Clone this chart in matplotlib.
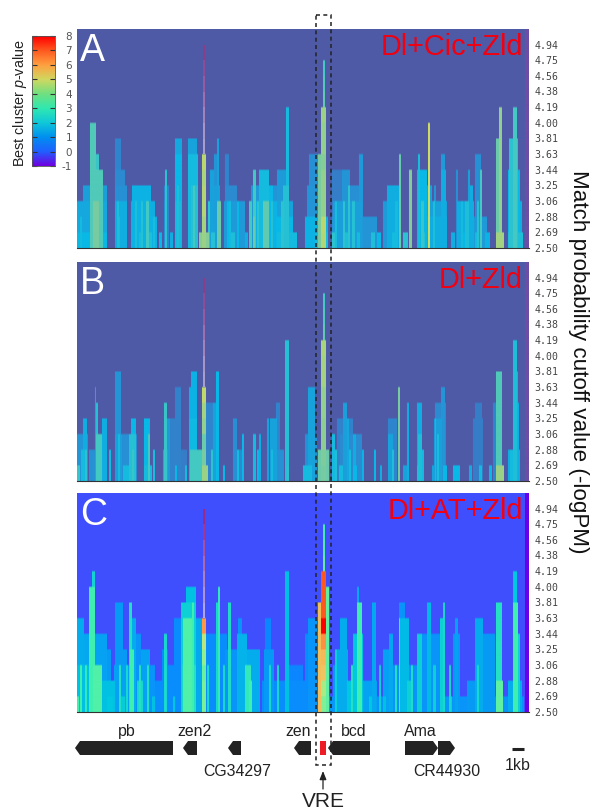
import numpy as np
import matplotlib
matplotlib.use("Agg")
import matplotlib.pyplot as plt
from matplotlib.colors import LinearSegmentedColormap
from matplotlib.patches import Polygon, Rectangle

plt.rcParams['font.family'] = ['Liberation Sans', 'DejaVu Sans']
plt.rcParams['mathtext.fontset'] = 'custom'
plt.rcParams['mathtext.it'] = 'Liberation Sans:italic'
plt.rcParams['mathtext.rm'] = 'Liberation Sans'

W, H = 591, 812
N_BINS = 452
N_ROWS = 14

cutoff_labels = ["2.50", "2.69", "2.88", "3.06", "3.25", "3.44", "3.63",
                 "3.81", "4.00", "4.19", "4.38", "4.56", "4.75", "4.94"]
cbar_ticks = [-1, 0, 1, 2, 3, 4, 5, 6, 7, 8]

# (start bin, end bin, rows reached, p-value)
a_spikes = [
    (0, 30, 3, 1.7), (6, 30, 4, 1.5), (13, 19, 8, 3.2), (13, 22, 6, 2.8), (19, 26, 5, 3.2),
    (16, 22, 3, 3.8), (0, 30, 1, 2.0), (3, 5, 2, 2.2), (38, 44, 7, 1.0), (38, 48, 5, 1.1),
    (38, 50, 4, 1.2), (38, 50, 3, 1.8), (41, 43, 2, 2.3), (55, 74, 4, 1.9), (54, 78, 3, 1.8),
    (54, 80, 2, 1.9), (69, 72, 3, 3.0), (62, 66, 1, 2.3), (88, 90, 5, 2.6), (87, 92, 4, 1.0),
    (87, 90, 3, 1.2), (98, 105, 7, 1.7), (98, 105, 6, 2.0), (98, 104, 3, 2.2), (111, 120, 7, 1.6),
    (111, 121, 6, 2.2), (114, 121, 4, 2.5), (112, 118, 3, 2.0), (122, 132, 1, 4.0),
    (133, 137, 5, 1.6), (137, 142, 6, 1.3), (140, 142, 7, 1.6), (137, 143, 4, 1.5), (140, 144, 3, 3.6),
    (148, 152, 6, 1.0), (148, 160, 4, 1.1), (147, 168, 3, 1.4), (150, 153, 3, 2.0), (174, 182, 4, 1.4),
    (176, 179, 5, 3.0), (182, 192, 5, 2.2), (182, 196, 4, 2.0), (178, 200, 3, 1.9), (186, 192, 3, 3.4),
    (176, 178, 2, 3.6), (209, 212, 9, 2.2), (200, 212, 5, 1.4), (196, 212, 4, 1.3), (206, 212, 4, 2.5),
    (200, 216, 3, 1.6), (199, 216, 2, 2.0), (200, 220, 1, 2.2), (230, 240, 4, 1.3), (232, 244, 6, 1.2),
    (228, 251, 2, 1.9), (238, 251, 1, 2.2), (241, 244, 6, 3.8), (255, 265, 5, 0.8), (265, 273, 5, 1.3),
    (273, 285, 4, 1.2), (282, 286, 6, 1.4), (256, 285, 3, 1.5), (255, 300, 2, 1.3), (271, 273, 4, 2.6),
    (310, 322, 4, 1.8), (306, 323, 3, 1.4), (322, 324, 6, 3.5), (332, 335, 5, 4.0), (340, 350, 5, 2.0),
    (341, 343, 6, 2.3), (350, 355, 4, 1.6), (351, 353, 8, 5.0), (357, 359, 4, 1.3), (364, 368, 6, 1.4),
    (364, 369, 5, 1.8), (340, 370, 3, 1.6), (340, 370, 2, 1.8), (379, 381, 5, 1.2), (391, 393, 5, 1.5),
    (393, 396, 4, 1.8), (398, 404, 6, 1.2), (403, 405, 5, 3.0), (380, 397, 3, 1.8), (380, 410, 2, 1.4),
    (419, 424, 7, 3.6), (422, 425, 9, 4.2), (419, 427, 1, 4.4), (432, 441, 7, 2.6), (436, 440, 9, 3.0),
    (431, 443, 5, 2.0), (431, 445, 3, 1.8), (431, 446, 1, 2.4), (255, 258, 1, 2.6), (268, 272, 1, 2.4),
    (280, 283, 1, 2.2), (294, 298, 1, 2.4), (300, 304, 1, 2.0), (315, 319, 1, 2.2), (326, 331, 1, 2.6),
    (344, 348, 1, 2.5), (374, 378, 1, 1.8), (386, 390, 1, 2.0), (398, 402, 1, 2.2), (408, 413, 1, 1.9),
    (72, 75, 1, 2.4), (82, 85, 1, 2.0), (93, 96, 1, 1.8), (134, 138, 1, 2.5), (154, 158, 1, 2.4), (168, 171, 1, 1.8),
    (40, 42, 3, 2.4), (58, 60, 3, 2.4), (64, 66, 3, 2.5), (76, 78, 2, 2.3), (100, 102, 4, 2.4),
    (116, 118, 4, 3.0), (131, 133, 3, 2.6), (152, 154, 3, 2.2), (160, 162, 3, 2.0), (172, 175, 3, 3.0),
    (180, 182, 3, 2.6), (194, 196, 3, 2.5), (204, 207, 3, 2.6), (258, 260, 3, 2.3), (266, 268, 3, 2.6),
    (275, 278, 3, 2.5), (318, 321, 3, 2.2), (344, 347, 3, 2.8), (356, 358, 3, 2.4), (384, 386, 3, 2.2),
    (388, 392, 3, 2.4), (400, 402, 3, 2.5), (436, 439, 3, 2.6),
]
b_spikes = [
    (0, 11, 3, 1.3), (6, 10, 4, 1.8), (4, 8, 2, 2.2), (0, 3, 1, 2.8), (12, 18, 2, 1.2),
    (18, 19, 6, 1.8), (19, 21, 5, 2.5), (19, 25, 3, 3.0), (25, 30, 4, 1.8), (21, 30, 2, 1.6),
    (38, 44, 7, 1.3), (38, 44, 6, 1.0), (38, 45, 3, 1.5), (38, 60, 3, 1.2), (54, 59, 4, 2.0),
    (52, 59, 3, 2.5), (53, 58, 2, 2.5), (67, 73, 4, 2.0), (71, 73, 3, 3.0), (67, 75, 1, 2.2),
    (46, 53, 1, 2.2), (87, 90, 5, 2.8), (87, 93, 4, 1.4), (86, 91, 2, 1.8), (98, 104, 6, 0.9),
    (93, 104, 4, 0.9), (93, 110, 2, 0.8), (98, 100, 1, 2.0), (112, 120, 6, 1.9), (114, 120, 7, 1.9),
    (112, 120, 4, 2.1), (113, 125, 2, 3.0), (129, 131, 1, 4.3), (129, 139, 5, 1.0),
    (139, 142, 7, 2.0), (136, 142, 5, 1.6), (156, 160, 4, 1.2), (156, 166, 2, 1.1), (165, 167, 3, 2.0),
    (176, 179, 3, 2.2), (182, 184, 3, 1.8), (190, 192, 4, 1.6), (193, 200, 4, 1.6), (199, 203, 5, 1.0),
    (208, 212, 9, 2.5), (208, 212, 8, 1.8), (200, 207, 2, 1.2), (231, 238, 6, 1.6), (228, 240, 3, 1.2),
    (226, 235, 1, 2.2), (241, 252, 2, 3.6), (255, 258, 3, 2.2), (266, 270, 5, 1.5), (260, 276, 4, 0.9),
    (270, 272, 4, 1.7), (263, 285, 3, 1.1), (276, 279, 3, 1.8), (285, 287, 2, 1.9), (297, 299, 2, 2.0),
    (311, 320, 4, 1.0), (311, 316, 3, 1.6), (321, 323, 6, 3.8), (330, 332, 5, 1.8), (340, 345, 5, 1.8),
    (341, 345, 3, 2.4), (364, 368, 6, 1.3), (358, 369, 5, 1.1), (357, 365, 4, 1.5), (358, 359, 4, 2.2),
    (398, 405, 5, 0.8), (396, 406, 4, 0.8), (419, 425, 7, 3.2), (416, 419, 5, 1.0), (419, 427, 1, 4.3),
    (436, 440, 9, 2.4), (436, 441, 7, 2.0), (438, 442, 5, 1.8), (431, 443, 2, 1.8), (376, 383, 1, 2.0),
    (355, 360, 1, 1.6), (262, 266, 1, 2.2), (276, 280, 1, 2.0), (303, 305, 1, 1.8), (326, 330, 1, 1.6),
    (340, 344, 1, 2.4), (366, 370, 1, 2.0), (392, 395, 1, 1.8), (402, 404, 1, 2.2), (412, 415, 1, 2.0),
    (8, 10, 2, 2.6), (32, 34, 2, 2.2), (41, 43, 3, 2.2), (55, 57, 2, 2.8), (76, 78, 2, 2.3),
    (108, 110, 1, 2.2), (120, 122, 2, 2.8), (134, 136, 2, 2.6), (146, 148, 1, 2.0), (160, 162, 2, 2.2),
    (180, 182, 2, 2.0), (194, 196, 2, 2.2), (210, 212, 1, 2.6), (258, 260, 2, 2.4), (272, 274, 2, 2.2),
    (315, 317, 2, 2.4), (345, 347, 2, 2.2), (360, 362, 3, 2.3), (403, 405, 1, 2.2), (433, 436, 2, 2.2),
]
c_spikes = [
    (0, 7, 6, 1.6), (7, 13, 5, 1.5), (15, 18, 9, 2.3), (12, 18, 8, 3.0), (12, 18, 6, 2.3),
    (0, 13, 3, 1.9), (0, 2, 1, 3.0), (18, 30, 5, 1.4), (18, 34, 4, 1.3), (16, 25, 3, 3.2),
    (13, 16, 2, 2.6), (25, 38, 2, 1.9), (38, 46, 7, 1.3), (38, 50, 4, 1.3), (52, 55, 7, 2.6),
    (53, 59, 6, 1.6), (59, 64, 5, 1.2), (64, 73, 4, 1.4), (73, 78, 3, 1.2), (37, 53, 3, 1.4),
    (53, 57, 4, 3.0), (60, 66, 2, 2.4), (78, 100, 2, 1.1), (85, 100, 3, 1.1), (87, 90, 5, 2.4),
    (85, 91, 4, 1.1), (97, 104, 6, 1.1), (104, 108, 7, 1.8), (109, 119, 8, 1.9), (104, 119, 7, 2.2),
    (106, 115, 6, 3.2), (110, 114, 5, 3.0), (115, 117, 7, 3.0), (119, 125, 6, 1.5), (112, 119, 3, 2.4),
    (129, 150, 5, 1.1), (141, 143, 8, 2.8), (139, 143, 7, 2.4),
    (151, 154, 7, 2.5), (161, 165, 6, 1.2), (160, 170, 5, 1.7), (148, 160, 4, 1.2), (170, 183, 4, 1.6),
    (168, 174, 3, 2.8), (188, 194, 6, 1.0), (187, 197, 4, 1.3), (185, 208, 2, 1.1), (192, 194, 3, 2.4),
    (208, 212, 9, 1.9), (208, 212, 4, 1.2), (212, 226, 3, 1.0), (210, 232, 2, 1.1), (231, 240, 6, 1.2),
    (228, 240, 5, 1.1), (241, 244, 7, 5.6), (249, 252, 8, 3.4), (256, 260, 3, 1.3), (260, 271, 4, 1.6),
    (263, 270, 6, 1.6), (276, 286, 5, 2.0), (280, 282, 8, 1.6), (280, 285, 7, 3.0), (286, 300, 2, 1.4),
    (295, 299, 7, 1.5), (312, 316, 5, 1.5), (306, 316, 4, 1.4), (322, 332, 6, 1.8), (322, 328, 7, 1.2),
    (322, 323, 6, 3.0), (316, 340, 3, 1.2), (340, 345, 5, 2.2), (350, 354, 7, 1.8), (345, 363, 5, 1.2),
    (363, 368, 6, 2.2), (366, 368, 7, 2.4), (378, 381, 6, 1.4), (376, 383, 5, 1.3), (398, 406, 6, 1.6),
    (403, 418, 5, 1.3), (390, 418, 2, 1.3), (419, 425, 7, 2.6), (419, 426, 2, 3.4), (436, 440, 9, 2.0),
    (436, 441, 7, 3.0), (438, 443, 5, 2.2), (431, 445, 2, 1.6), (252, 447, 1, 1.2), (270, 274, 2, 2.0),
    (292, 295, 1, 2.0), (306, 309, 1, 1.9), (330, 334, 2, 2.2), (356, 359, 3, 2.2), (372, 375, 1, 2.2),
    (30, 36, 1, 2.0), (44, 48, 1, 2.1), (75, 78, 1, 1.9), (96, 98, 1, 2.0),
    (3, 5, 3, 3.0), (8, 10, 3, 2.8), (20, 22, 3, 2.6), (42, 44, 3, 2.6), (49, 51, 3, 2.4),
    (62, 64, 3, 2.6), (70, 72, 3, 2.6), (88, 89, 3, 2.5), (105, 107, 3, 2.4), (117, 119, 3, 2.6),
    (130, 132, 3, 2.4), (146, 148, 3, 2.4), (172, 175, 2, 3.0), (200, 202, 3, 2.4), (258, 260, 4, 2.2),
    (274, 276, 3, 2.6), (302, 304, 3, 2.2), (318, 320, 3, 2.6), (334, 336, 3, 2.5), (372, 374, 3, 2.4),
    (400, 402, 3, 2.4),
]

# p-value per row from the bottom: spike below the thin line, then the VRE core and its tip
a_line_base = [4.3, 4.4, 4.6, 4.6, 4.5, 4.7]
b_line_base = [4.3, 3.8, 3.6, 4.2, 4.4, 4.8]
c_line_base = [3.7, 3.7, 3.5, 4.0, 4.5, 6.2]
a_vre = [4.6, 4.7, 4.2, 4.2, 4.2, 4.0, 4.2, 4.2, 4.3]
b_vre = [3.8, 3.9, 4.1, 4.1, 4.2, 4.2, 4.4, 4.4, 4.5]
c_vre = [3.8, 4.3, 5.5, 5.7, 6.3, 8.0, 7.0, 7.0, 7.0]
tip_vre = [3.4, 3.2, 3.0]

a_pink = ["#c4b4d8", "#c2a8d0", "#bb90c0", "#b678b0", "#aa5ca0", "#a04890", "#9a3880"]
b_pink = ["#c4b4d8", "#c2a8d0", "#bb90c0", "#b678b0", "#aa5ca0", "#a04890", "#9a3880"]
c_pink = ["#d0c0e8", "#d0a8d0", "#d090b0", "#d07090", "#c85080", "#c03070", "#b82060"]

gene_names = ["pb", "zen2", "CG34297", "zen", "bcd", "Ama", "CR44930"]
gene_left = [75, 183, 228, 294, 328, 405, 438]
gene_right = [173, 197, 241, 311, 370, 438, 455]
gene_dir = [-1, -1, -1, -1, -1, 1, 1]


def build_matrix(spikes, line_base, core):
    z = np.zeros((N_ROWS, N_BINS))
    for start, end, top, val in spikes:
        z[:top, start:end] = np.maximum(z[:top, start:end], val)
    for row, val in enumerate(line_base):
        z[row, 125:129] = val
    for row, val in enumerate(core):
        z[row, 244:249] = val
    for row, val in zip(range(9, 12), tip_vre):
        z[row, 246:248] = val
    z[:, 448:] = -1
    return z


def px_axes(fig, left, top, right, bottom):
    return fig.add_axes([left / W, 1 - bottom / H, (right - left) / W, (bottom - top) / H])


muted = LinearSegmentedColormap.from_list("muted", [
    (0.0, "#6c4ea6"), (1 / 9, "#4f5ba8"), (2 / 9, "#2f86cf"), (3 / 9, "#08b8e6"), (4 / 9, "#45c9c2"),
    (5 / 9, "#86cc98"), (6 / 9, "#cfdc60"), (7 / 9, "#ffa040"), (8 / 9, "#ff5a20"), (1.0, "#ff0000")])
bright = LinearSegmentedColormap.from_list("bright", [
    (0.0, "#6a00e6"), (1 / 9, "#4050ff"), (2 / 9, "#0a88ff"), (3 / 9, "#00c8e0"), (4 / 9, "#40f0b0"),
    (5 / 9, "#90f090"), (6 / 9, "#e0e070"), (7 / 9, "#ffa850"), (8 / 9, "#ff5a20"), (1.0, "#ff0000")])
legend_map = LinearSegmentedColormap.from_list("legend", [
    (0.0, "#7000e0"), (1 / 9, "#2060ff"), (2 / 9, "#0090f0"), (3 / 9, "#10c8d8"), (4 / 9, "#30e8b0"),
    (5 / 9, "#70e080"), (6 / 9, "#d0d860"), (7 / 9, "#ffa040"), (8 / 9, "#ff5a20"), (1.0, "#ff0000")])

fig = plt.figure(figsize=(W / 100, H / 100), dpi=100)

panels = [
    (30, 249, a_spikes, a_line_base, a_vre, a_pink, muted, "A", "Dl+Cic+Zld"),
    (263, 482, b_spikes, b_line_base, b_vre, b_pink, muted, "B", "Dl+Zld"),
    (494, 713, c_spikes, c_line_base, c_vre, c_pink, bright, "C", "Dl+AT+Zld"),
]
for top, bottom, spikes, line_base, core, pink, cmap, letter, name in panels:
    ax = px_axes(fig, 77, top, 529, bottom)
    z = build_matrix(spikes, line_base, core)
    ax.imshow(np.repeat(z, 8, axis=0), origin="lower", aspect="auto", cmap=cmap, vmin=-1, vmax=8,
              extent=[0, N_BINS, 0, N_ROWS], interpolation="bilinear", interpolation_stage="rgba")
    for i, col in enumerate(pink):
        ax.vlines(126.5, 6 + i, 7 + i, color=col, lw=1.1)
    ax.set_xticks([])
    ax.set_yticks(np.arange(N_ROWS) + 0.07)
    ax.set_yticklabels(cutoff_labels, family="DejaVu Sans Mono", fontsize=7.1, color="#444444")
    ax.yaxis.tick_right()
    ax.tick_params(axis="y", length=0, pad=4)
    for side in ["top", "left", "right"]:
        ax.spines[side].set_visible(False)
    ax.spines["bottom"].set_color("#333333")
    ax.spines["bottom"].set_linewidth(0.8)
    ax.text(3, 12.0, letter, color="white", fontsize=27, va="baseline", ha="left")
    ax.text(446, 12.42, name, color="#f00010", fontsize=20.8, va="baseline", ha="right")

# colour legend
cax = px_axes(fig, 32, 37, 55, 167)
ramp = np.linspace(-1, 8, 256).reshape(-1, 1)
cax.imshow(ramp, origin="lower", aspect="auto", cmap=legend_map, extent=[0, 1, -1, 8])
cax.set_xticks([])
cax.set_yticks(cbar_ticks)
cax.set_yticklabels([])
cax.tick_params(axis="y", direction="in", left=True, right=True, length=3.6, width=0.8, color="#333333")
for t in cbar_ticks:
    cax.text(1.74, t, str(t), transform=cax.get_yaxis_transform(), ha="right", va="center",
             fontsize=7.5, color="#555555", family="DejaVu Sans")
for s in cax.spines.values():
    s.set_color("#555555")
    s.set_linewidth(0.6)

# overlay in picture coordinates for the gene track and labels
over = fig.add_axes([0, 0, 1, 1], facecolor="none")
over.set_xlim(0, W)
over.set_ylim(H, 0)
over.axis("off")

over.text(20, 103, r"Best cluster $\mathit{p}$-value", rotation=90, fontsize=10.4, color="#222222",
          ha="center", va="center")
over.text(579, 362, "Match probability cutoff value (-logPM)", rotation=270, fontsize=16.1, color="#111111",
          ha="center", va="center")

for name, x0, x1, d in zip(gene_names, gene_left, gene_right, gene_dir):
    head = 5
    if d < 0:
        pts = [(x0, 749), (x0 + head, 742), (x1, 742), (x1, 756), (x0 + head, 756)]
    else:
        pts = [(x0, 742), (x1 - head, 742), (x1, 749), (x1 - head, 756), (x0, 756)]
    over.add_patch(Polygon(pts, closed=True, fc="#222222", ec="none"))

for name, x, y in [("pb", 127, 736), ("zen2", 194, 736), ("zen", 298, 736), ("bcd", 354, 736), ("Ama", 420, 736),
                   ("CG34297", 237, 776), ("CR44930", 447, 776), ("1kb", 518, 770)]:
    over.text(x, y, name, fontsize=11.4, ha="center", va="baseline", color="#222222")

over.add_patch(Rectangle((320, 742), 6, 14, fc="#ee1c25", ec="none"))
over.plot([512, 524], [750, 750], color="#222222", lw=2.2, solid_capstyle="butt")
over.add_patch(Rectangle((316, 16), 15, 750, fc="none", ec="#222222", lw=1.1, ls=(0, (2.6, 2.2)), zorder=5))
over.annotate("", xy=(323, 772), xytext=(323, 790),
              arrowprops=dict(arrowstyle="-|>,head_width=0.2,head_length=0.5", color="#222222", lw=0.9,
                              shrinkA=0, shrinkB=0))
over.text(323, 807, "VRE", fontsize=15, ha="center", va="baseline", color="#222222")

fig.savefig("out.png", dpi=100)
